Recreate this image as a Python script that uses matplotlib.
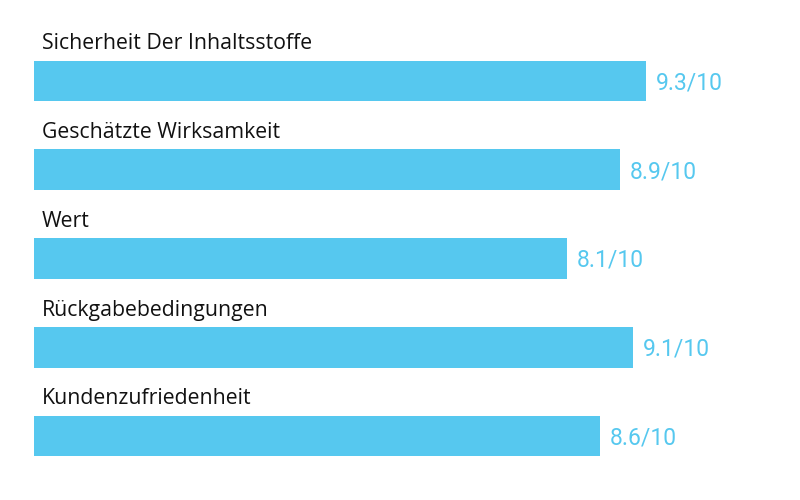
import matplotlib
matplotlib.use("Agg")
import matplotlib.pyplot as plt

categories = ["Sicherheit Der Inhaltsstoffe", "Geschätzte Wirksamkeit", "Wert",
              "Rückgabebedingungen", "Kundenzufriedenheit"]
scores = [9.3, 8.9, 8.1, 9.1, 8.6]
max_score = 10

bar_color = "#56C8EF"
px_per_unit = 65.8
row_px = 88.75

plt.rcParams['font.family'] = ['Roboto', 'DejaVu Sans']

fig = plt.figure(figsize=(8, 5), dpi=100)
ax = fig.add_axes([0, 0, 1, 1])
ypos = list(range(len(categories)))
ax.barh(ypos, scores, height=40.5 / row_px, color=bar_color, left=0)

for i, (name, s) in enumerate(zip(categories, scores)):
    ax.text(8 / px_per_unit, i - 31.5 / row_px, name, ha='left', va='baseline',
            fontsize=15.3, color="#111111", family=['Open Sans', 'DejaVu Sans'])
    ax.text(s + 10 / px_per_unit, i + 2 / row_px, f"{s}/{max_score}", ha='left',
            va='center', fontsize=16.5, color=bar_color)

ax.set_xlim(-34 / px_per_unit, (800 - 34) / px_per_unit)
ax.set_ylim((500 - 81) / row_px, -81 / row_px)
ax.axis('off')

fig.savefig("out.png", dpi=100)
